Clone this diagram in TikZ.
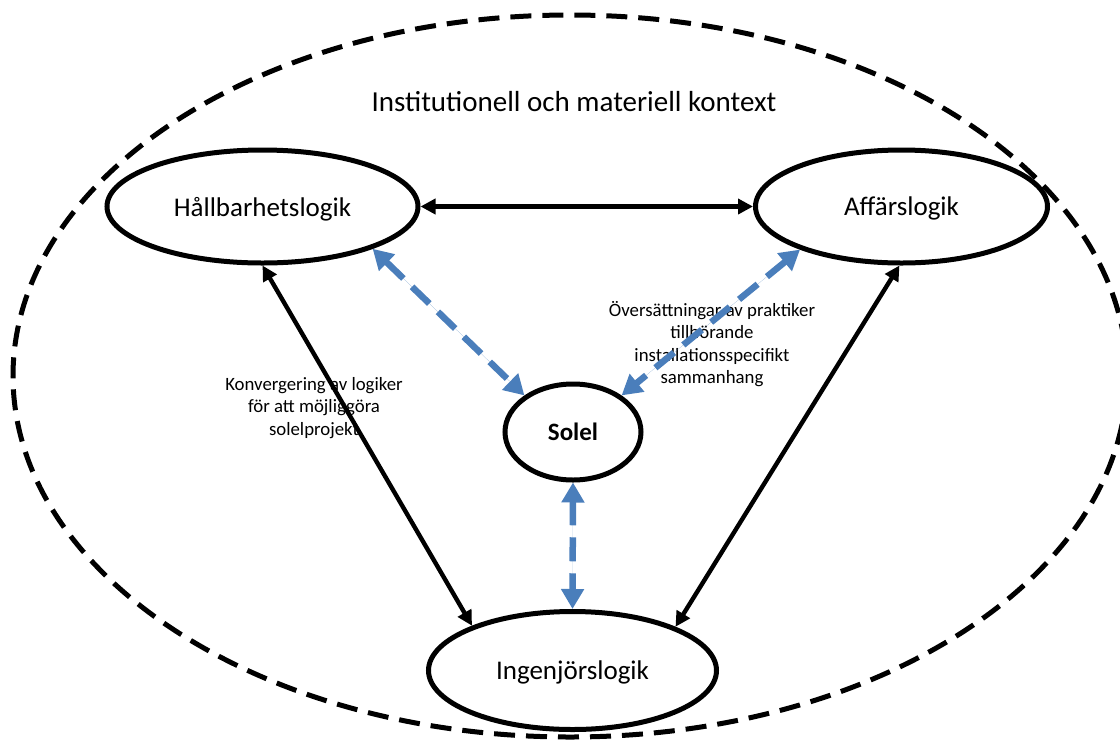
\documentclass[tikz,border=0pt]{standalone}
\usepackage{fontspec}
\setmainfont{Carlito}
\usetikzlibrary{shapes.geometric,arrows.meta}
\definecolor{solblue}{HTML}{4A7EBB}
\begin{document}
\begin{tikzpicture}[x=1pt,y=-1pt,
  logic/.style={ellipse, draw, line width=5pt, inner sep=0pt, text depth=0pt, font=\fontsize{27}{31}\selectfont},
  note/.style={align=center, font=\fontsize{18.8}{22.5}\selectfont, inner sep=0pt},
  blk/.style={line width=4.4pt, {Triangle[length=15pt,width=15pt]}-{Triangle[length=15pt,width=15pt]}},
  blu/.style={draw=solblue, fill=solblue, line width=6.5pt, dash pattern=on 24pt off 12pt, {Triangle[length=20pt,width=22pt]}-{Triangle[length=20pt,width=22pt]}},
  ctxline/.style={ellipse, draw, line width=5pt, dash pattern=on 21pt off 11pt, inner sep=0pt}
]
\useasboundingbox (0,0) rectangle (1120,740);
\clip (0,0) rectangle (1120,740);
\node[ctxline, minimum width=1114pt, minimum height=722pt] (ctx) at (570,376) {};
\node[font=\fontsize{29}{33}\selectfont, inner sep=0pt] (title) at (574,102) {Institutionell och materiell kontext};
\node[logic, minimum width=311pt, minimum height=113pt] (H) at (262.5,206.5) {Hållbarhetslogik};
\node[logic, minimum width=292pt, minimum height=113pt] (A) at (901.5,206.5) {Affärslogik};
\node[logic, minimum width=136pt, minimum height=96pt, font=\fontsize{25}{29}\selectfont\bfseries] (S) at (573,432) {Solel};
\node[logic, minimum width=288pt, minimum height=118pt] (I) at (572.5,670.5) {Ingenjörslogik};
\node[note] (konv) at (314,408) {Konvergering av logiker\\för att möjliggöra\\solelprojekt};
\node[note] (over) at (712,344) {Översättningar av praktiker\\tillhörande\\installationsspecifikt\\sammanhang};
\draw[blk] (H.east) -- (A.west);
\draw[blk] (H.south) -- (I.156);
\draw[blk] (A.-92) -- (I.23);
\draw[blu] (H.-21) -- (S.143);
\draw[blu] (A.-157) -- (S.37);
\draw[blu] (S.south) -- (I.north);
\end{tikzpicture}
\end{document}
